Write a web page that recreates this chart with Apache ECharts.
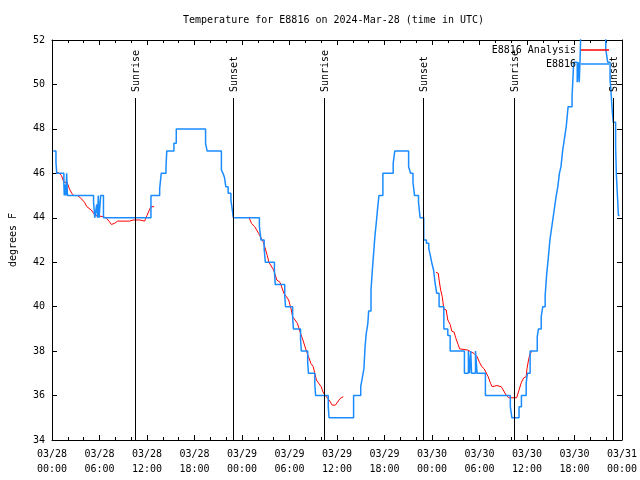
<!DOCTYPE html>
<html><head><meta charset="utf-8">
<script src="https://cdn.jsdelivr.net/npm/echarts@6/dist/echarts.min.js"></script>
<style>html,body{margin:0;padding:0;background:#fff}#c{width:640px;height:480px}</style>
</head><body><div id="c"></div>
<script>
const FONT = 'DejaVu Sans Mono';
const titleText = 'Temperature for E8816 on 2024-Mar-28 (time in UTC)';
const yAxisTitle = 'degrees F';
const xTickLabels = ['03/28\n00:00','03/28\n06:00','03/28\n12:00','03/28\n18:00','03/29\n00:00','03/29\n06:00','03/29\n12:00','03/29\n18:00','03/30\n00:00','03/30\n06:00','03/30\n12:00','03/30\n18:00','03/31\n00:00'];
const seriesNames = ['E8816 Analysis', 'E8816'];
// hours since 03/28 00:00 UTC
const sunHours = [10.5, 22.9, 34.4, 46.9, 58.4, 70.9];
const sunLabels = ['Sunrise','Sunset','Sunrise','Sunset','Sunrise','Sunset'];

// Station observations [hour, degF]
const blueData = [
[0.15,47],[0.5,46.5],[0.6,46],[1.5,45.5],[1.55,45],[1.65,45.5],[1.75,45],[1.85,46],[1.95,45],
[5.25,44.7],[5.4,44],[5.65,44.6],[5.75,44],[5.85,45],[5.95,44],[6.15,45],[6.5,44],
[12.5,45],[13.6,45.3],[13.8,46],[14.4,46.3],[14.5,47],[15.4,47.35],[15.7,48],
[19.4,47.35],[19.6,47],[21.4,46.15],[21.6,46],[21.8,45.8],[21.95,45.4],[22.25,45.1],[22.6,44.8],[22.8,44.3],[22.9,44],
[26.2,43.6],[26.3,43.3],[26.4,43],[26.8,42.6],[26.95,42],[28.1,41.6],[28.2,41],[29.4,40.5],[29.5,40],[30.4,39.5],[30.5,39],[31.4,38.5],[31.5,38],[32.3,37.5],[32.4,37],[33.2,36.5],[33.3,36],[34.9,35.5],[35.0,35],
[38.1,36],[39.0,36.4],[39.2,36.8],[39.4,37.2],[39.55,38.2],[39.7,38.8],[39.9,39.25],[40.0,39.8],[40.3,40.75],[40.5,41.8],[40.6,42.25],[40.8,43.2],[41.0,43.9],[41.1,44.3],[41.3,45],[41.8,46],[43.1,46.45],[43.3,47],
[45.05,46.3],[45.3,46],[45.6,45.6],[45.8,45],[46.3,44.7],[46.5,44],[46.96,43],[47.3,42.85],[47.6,42.6],[47.8,42.3],[47.96,42],[48.2,41.65],[48.4,41.05],[48.6,40.6],[48.9,40],[49.5,39],[50.0,38.7],[50.3,38],
[52.1,37],[52.6,38],[52.75,37],[52.9,38],[53.0,37],[53.5,38],[53.7,37],[54.75,36],[57.9,35.5],[58.1,35],[59.0,35.5],[59.3,36],[59.9,36.55],[60.05,37],[60.4,38],
[61.3,38.65],[61.45,39],[61.8,39.55],[62.0,40],[62.3,40.5],[62.5,41.5],[62.7,42.2],[62.9,43],[63.1,43.5],[63.3,44],[63.5,44.5],[63.7,45],[63.9,45.4],[64.1,46],[64.3,46.3],[64.5,47],[64.75,47.6],[64.96,48.1],[65.2,49],[65.7,49.5],[65.8,50.2],[65.9,51],[66.35,50.1],[66.5,51],[66.6,50.1],[66.7,51],[66.85,53],
[69.95,51.6],[70.2,51],[70.5,50.2],[70.6,49.8],[70.7,49.2],[70.8,48.7],[70.9,48.3],[71.2,47.2],[71.3,45.9],[71.5,44.5],[71.55,44.1],[71.7,44.1]
];

// Analysis [hour, degF]; null = gap
const redData = [
[0.54,46.08],[0.9,46.0],[1.2,45.9],[1.5,45.6],[1.9,45.6],[2.2,45.3],[2.5,45.1],[2.75,45.0],[3.2,45.0],[3.6,44.9],[4.1,44.7],[4.4,44.5],[4.96,44.35],[5.46,44.1],[6.5,44.05],[6.9,43.97],[7.2,43.85],[7.5,43.7],[7.9,43.75],[8.3,43.85],[9.8,43.85],[10.25,43.9],[11.1,43.9],[11.7,43.85],[12.0,44.1],[12.3,44.35],[12.5,44.5],[12.9,44.5],
[18,null],
[24.9,44.0],[25.2,43.75],[25.6,43.6],[26.1,43.3],[26.7,42.9],[27.2,42.3],[27.4,42.0],[28.0,41.65],[28.4,41.2],[28.8,41.1],[29.3,40.6],[29.9,40.3],[30.2,39.9],[30.4,39.55],[31.0,39.25],[31.3,38.9],[31.6,38.6],[32.1,38.05],[32.4,37.75],[32.7,37.45],[33.0,37.3],[33.2,37.0],[33.4,36.7],[34.0,36.4],[34.3,36.1],[35.0,35.8],[35.4,35.57],[35.8,35.57],[36.4,35.87],[36.8,35.95],
[42,null],
[48.5,41.55],[48.8,41.5],[48.9,41.2],[49.1,40.75],[49.3,40.45],[49.5,39.9],[49.8,39.85],[50.0,39.4],[50.3,39.2],[50.5,38.9],[50.8,38.85],[51.0,38.6],[51.3,38.3],[51.5,38.1],[52.5,38.05],[52.9,37.97],[53.3,37.9],[53.7,37.75],[54.0,37.5],[54.3,37.3],[54.6,37.2],[55.1,36.85],[55.4,36.55],[55.6,36.4],[56.2,36.45],[56.75,36.4],[57.0,36.25],[57.4,36.0],[57.7,35.9],[58.7,35.9],[59.0,36.25],[59.3,36.6],[59.6,36.8],[59.9,36.85],[60.0,37.2],[60.2,37.6],[60.4,37.9],[60.7,38.0]
];

const X_MIN = 0, X_MAX = 72, X_STEP = 6;
const Y_MIN = 34, Y_MAX = 52, Y_STEP = 2;
const SUN_TOP_FRAC = 0.855;
const sunTop = Y_MIN + (Y_MAX - Y_MIN) * SUN_TOP_FRAC;

const txt = {fontFamily: FONT, fontSize: 10, color: '#000'};
const blk = {color: '#000', width: 1};
function xAx(pos, labels) {
  return {type:'value', min:X_MIN, max:X_MAX, interval:X_STEP, position:pos,
    axisLine:{show:true, onZero:false, lineStyle:blk},
    axisTick:{show:true, inside:true, length:5, lineStyle:blk},
    minorTick:{show:true, splitNumber:3, length:3, lineStyle:blk},
    splitLine:{show:false},
    axisLabel:{show:labels, ...txt, lineHeight:15, margin:7, formatter:v=>xTickLabels[Math.round((v-X_MIN)/X_STEP)]}};
}
function yAx(pos, labels) {
  const a = {type:'value', min:Y_MIN, max:Y_MAX, interval:Y_STEP, position:pos,
    axisLine:{show:true, onZero:false, lineStyle:blk},
    axisTick:{show:true, inside:true, length:5, lineStyle:blk},
    splitLine:{show:false},
    axisLabel:{show:labels, ...txt, margin:7}};
  if (labels) { a.name = yAxisTitle; a.nameLocation='middle'; a.nameGap=34; a.nameRotate=90; a.nameTextStyle={...txt}; }
  return a;
}

const chart = echarts.init(document.getElementById('c'));
chart.setOption({
  animation:false,
  backgroundColor:'#fff',
  title:{text:titleText, left:183, top:15, textStyle:{...txt, fontWeight:'normal'}, padding:0},
  grid:{left:47, right:17, top:40, bottom:40, containLabel:false},
  legend:{data:seriesNames, orient:'vertical', right:31, top:44, align:'right', icon:'rect', itemWidth:28, itemHeight:1.5, itemGap:2, padding:0, textStyle:{...txt, lineHeight:12}},
  xAxis:[xAx('bottom', true), xAx('top', false)],
  yAxis:[yAx('left', true), yAx('right', false)],
  series:[
    {name:seriesNames[0], type:'line', data:redData, color:'#ff0000', lineStyle:{width:1}, symbol:'none', connectNulls:false, z:2,
     markLine:{silent:true, symbol:'none', label:{show:false}, lineStyle:{color:'#000', width:1, type:'solid'},
       data: sunHours.map(h=>[{coord:[h, Y_MIN]},{coord:[h, sunTop]}])}},
    {name:seriesNames[1], type:'line', step:'end', data:blueData, color:'#1a8cff', lineStyle:{width:1.5}, symbol:'none', z:3}
  ]
});
const gr = sunHours.map((h,i)=>{
  const p = chart.convertToPixel({xAxisIndex:0, yAxisIndex:0}, [h, sunTop]);
  return {type:'text', x:p[0]+1.5, y:p[1]-6, rotation:Math.PI/2, z:10,
    style:{text:sunLabels[i], font:'10px "DejaVu Sans Mono"', fill:'#000', textAlign:'left', textVerticalAlign:'middle'}};
});
chart.setOption({graphic:gr});
</script></body></html>
